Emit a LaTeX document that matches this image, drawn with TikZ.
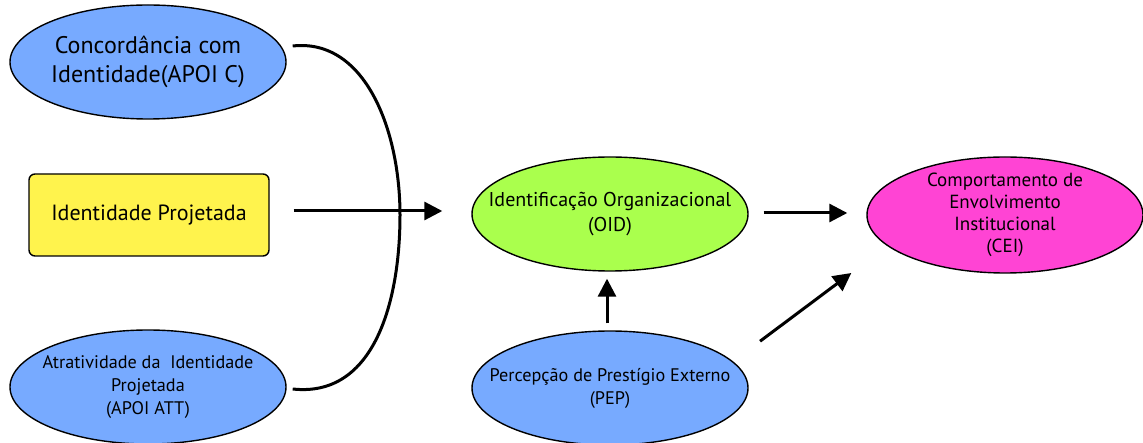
\documentclass[tikz,border=0pt]{standalone}
\usepackage{fontspec}
\setmainfont{PT Sans}
\usetikzlibrary{shapes.geometric,arrows.meta,calc}
\definecolor{cblue}{RGB}{119,170,255}
\definecolor{cyellow}{RGB}{255,243,77}
\definecolor{cgreen}{RGB}{170,255,77}
\definecolor{cmag}{RGB}{255,68,212}
\tikzset{
  ell/.style={ellipse, draw=black, line width=1.4pt, minimum width=276pt, minimum height=114pt, inner sep=0pt},
  lbl/.style={align=center, inner sep=0pt},
  bigtxt/.style={lbl, font=\fontsize{24}{29}\selectfont},
  boxtxt/.style={lbl, font=\fontsize{22}{27}\selectfont},
  oidtxt/.style={lbl, font=\fontsize{20}{25}\selectfont},
  midtxt/.style={lbl, font=\fontsize{18.2}{23}\selectfont},
  smalltxt/.style={lbl, font=\fontsize{19}{22}\selectfont},
  conn/.style={line width=3pt, -{Triangle[length=18pt,width=18pt]}},
  brace/.style={line width=3pt},
}
\begin{document}
\begin{tikzpicture}[x=1pt,y=-1pt]
\useasboundingbox (0,0) rectangle (1143,443);
\node[ell, fill=cblue] (c1) at (148,62) {};
\node[bigtxt] (c1t) at (c1) {Concordância com\\Identidade(APOI C)};
\node[draw=black, line width=1.4pt, fill=cyellow, rounded corners=6pt, minimum width=240pt, minimum height=82pt, inner sep=0pt, boxtxt] (ip) at (149,215) {Identidade Projetada};
\node[ell, fill=cblue] (att) at (148,387) {};
\node[midtxt] (attt) at (att) {Atratividade da\ \ Identidade\\Projetada\\(APOI ATT)};
\node[ell, fill=cgreen] (oid) at (610,214) {};
\node[oidtxt] (oidt) at (oid) {Identificação Organizacional\\(OID)};
\node[ell, fill=cmag, minimum height=116pt] (cei) at (1005,215) {};
\node[smalltxt] (ceit) at (cei) {Comportamento de\\Envolvimento\\Institucional\\(CEI)};
\node[ell, fill=cblue] (pep) at (610,388) {};
\node[midtxt] (pept) at (pep) {Percepção de Prestígio Externo\\(PEP)};
\coordinate (bs) at ($(c1.east)+(6,-16)$);
\coordinate (be) at ($(att.east)+(6,2)$);
\draw[brace] (bs) .. controls (365,38) and (400,130) .. (400,215) .. controls (400,300) and (375,398) .. (be);
\draw[conn] ($(ip.east)+(24,-4)$) -- ($(oid.west)+(-29,-3)$);
\draw[conn] ($(oid.east)+(15,-1)$) -- ($(cei.west)+(-19,-2)$);
\draw[conn] ($(pep.north)+(-3,-7)$) -- ($(oid.south)+(-3,7)$);
\draw[conn] ($(pep.north east)+(52,-6)$) -- ($(cei.west)+(-15,58)$);
\end{tikzpicture}
\end{document}
